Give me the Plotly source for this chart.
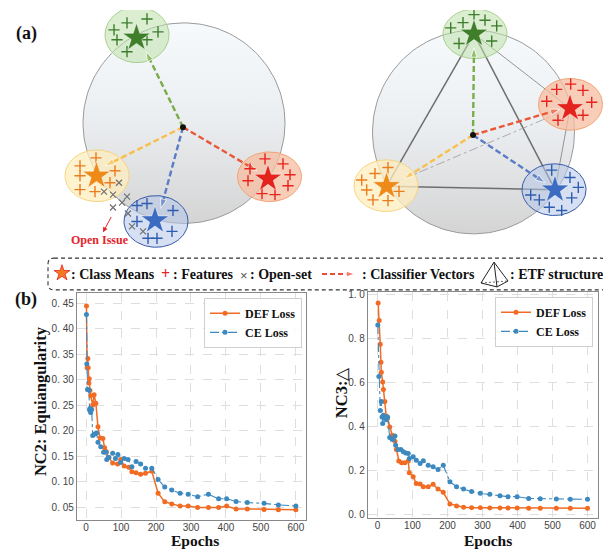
import numpy as np
import plotly.graph_objects as go

# ---------------- data ----------------
epochs_def_nc2 = [1, 3, 5, 6, 8, 9, 11, 13, 19, 23, 28, 34, 40, 48, 53, 58, 65, 76, 90, 99,
                  109, 122, 131, 143, 156, 170, 188, 206, 225, 245, 269, 292, 319, 350, 379, 402,
                  429, 461, 509, 550, 600]
def_nc2 = [0.445, 0.324, 0.342, 0.324, 0.294, 0.302, 0.279, 0.269, 0.251, 0.271,
           0.254, 0.208, 0.186, 0.185, 0.167, 0.159, 0.148, 0.137, 0.135, 0.144,
           0.131, 0.129, 0.120, 0.118, 0.115, 0.117, 0.121,
           0.078, 0.061, 0.057, 0.053, 0.053, 0.050, 0.050, 0.050, 0.053,
           0.047, 0.047, 0.046, 0.0455, 0.0455]

epochs_ce_nc2 = [1, 2, 4, 8, 10, 11, 13, 16, 19, 25, 30, 34, 42, 50, 57, 59, 65, 76, 84, 91,
                 99, 109, 120, 131, 143, 156, 170, 188, 206, 225, 245, 269, 292, 319, 350, 379,
                 402, 429, 461, 509, 550, 600]
ce_nc2 = [0.428, 0.331, 0.281, 0.280, 0.241, 0.244, 0.236, 0.242, 0.191, 0.194,
          0.196, 0.178, 0.169, 0.158, 0.158, 0.144, 0.148, 0.156, 0.146, 0.154,
          0.138, 0.146, 0.144, 0.130, 0.140, 0.135, 0.127, 0.127,
          0.105, 0.090, 0.084, 0.078, 0.076, 0.071, 0.076, 0.067, 0.067,
          0.0615, 0.0596, 0.058, 0.055, 0.053]

epochs_def_nc3 = [2, 5, 8, 10, 11, 15, 17, 21, 25, 29, 35, 42, 50, 54, 61, 69, 78, 88,
                  91, 102, 111, 122, 131, 145, 159, 173, 188, 207, 226, 246, 269, 294, 321,
                  350, 373, 399, 432, 465, 511, 551, 600]
def_nc3 = [0.963, 0.884, 0.776, 0.694, 0.649, 0.604, 0.570, 0.516,
           0.450, 0.441, 0.400, 0.362, 0.335, 0.297, 0.245, 0.237, 0.237, 0.245,
           0.192, 0.174, 0.143, 0.140, 0.128, 0.128, 0.139, 0.118, 0.103,
           0.050, 0.041, 0.035, 0.033, 0.033, 0.032, 0.032, 0.031, 0.031,
           0.030, 0.030, 0.030, 0.030, 0.030]

epochs_ce_nc3 = [1, 4, 8, 11, 13, 15, 17, 21, 25, 29, 35, 42, 50, 52, 59, 67, 74, 81, 88, 91,
                 102, 111, 122, 131, 145, 159, 173, 188, 207, 226, 246, 269, 294, 321, 350,
                 373, 399, 432, 465, 511, 551, 600]
ce_nc3 = [0.863, 0.629, 0.475, 0.516, 0.445, 0.415, 0.453, 0.438, 0.433, 0.445,
          0.352, 0.343, 0.359, 0.317, 0.297, 0.297, 0.287, 0.282, 0.279, 0.257,
          0.264, 0.249, 0.234, 0.246, 0.226, 0.219, 0.207, 0.226,
          0.151, 0.128, 0.118, 0.106, 0.098, 0.094, 0.0875, 0.083, 0.083,
          0.075, 0.074, 0.072, 0.071, 0.071]

series_names = ["DEF Loss", "CE Loss"]
x_ticks = [0, 100, 200, 300, 400, 500, 600]
nc2_ticks = [0.05, 0.10, 0.15, 0.20, 0.25, 0.30, 0.35, 0.40, 0.45]
nc2_ticktext = ["0. 05", "0. 10", "0. 15", "0. 20", "0. 25", "0. 30", "0. 35", "0. 40", "0. 45"]
nc3_ticks = [0.0, 0.2, 0.4, 0.6, 0.8, 1.0]
nc3_ticktext = ["0. 0", "0. 2", "0. 4", "0. 6", "0. 8", "1. 0"]

# schematic (a): class layout in page-pixel coordinates
left_sphere = (184, 122, 101, 101)
right_sphere = (473.5, 131, 101, 102.5)
left_center = (183, 126)
right_center = (473, 134)
left_clusters = {
    "green": dict(ell=(137, 33, 32, 28), star=(136.5, 36),
                  plus=[(114, 28), (127, 21), (147, 17), (158, 30), (117, 38), (127, 50), (147, 38)],
                  head=(146, 50)),
    "orange": dict(ell=(97, 175, 32, 26), star=(96.5, 175),
                   plus=[(80, 165), (96, 157), (80, 175), (115, 170), (80, 189), (95, 191), (110, 182)],
                   head=(105, 165)),
    "red": dict(ell=(269.5, 176, 32, 25), star=(268, 178),
                plus=[(265, 158), (283, 163), (250, 168), (290, 174), (248, 180), (288, 185), (262, 193), (275, 194)],
                head=(257, 170)),
    "blue": dict(ell=(156, 221, 32, 26), star=(155, 220),
                 plus=[(137, 205), (147, 203), (173, 210), (137, 221), (172, 231), (148, 238), (157, 238)],
                 head=(161, 208)),
}
right_clusters = {
    "green": dict(ell=(475, 32, 32, 25), star=(474, 32),
                  plus=[(450.7, 26), (463, 20.7), (474, 12.7), (485, 18.3), (496.7, 24), (459, 41.7), (491.7, 39.3)],
                  head=(474, 46)),
    "red": dict(ell=(570.5, 103, 32, 26), star=(570, 107),
                plus=[(556.7, 88), (570.7, 82.7), (583, 89), (546.7, 100), (591.7, 101), (583, 114), (558, 119)],
                head=(560, 108)),
    "orange": dict(ell=(386, 185, 32, 26), star=(386.5, 185.5),
                   plus=[(375, 172.7), (388, 166.7), (361.7, 179.3), (399, 190.7), (366.7, 189.3), (373, 199.3), (388, 200)],
                   head=(404, 178)),
    "blue": dict(ell=(554, 189, 32, 26), star=(555, 189),
                 plus=[(551.7, 169.3), (570, 176.7), (578.3, 186.7), (530.7, 194.3), (539.3, 199.3), (571.7, 197.3), (549.3, 206.7), (561.7, 210)],
                 head=(545, 182)),
}
open_set = [(119, 182), (104, 191), (113, 194), (127, 196), (122, 202), (113, 207), (128, 213), (132, 226), (143, 231)]

palette = {
    "green": dict(fill="rgba(190,224,170,0.55)", edge="#a9d18e", star="#3f7f2a", plus="#3e7d2e", arrow="#78ad48"),
    "orange": dict(fill="rgba(255,238,190,0.75)", edge="#f6d57f", star="#ee8a18", plus="#ea7d1f", arrow="#f8c04a"),
    "red": dict(fill="rgba(247,190,160,0.75)", edge="#f2a373", star="#e5231d", plus="#e8231e", arrow="#e9583b"),
    "blue": dict(fill="rgba(180,198,232,0.55)", edge="#3558a8", star="#3b6cc2", plus="#2f5db0", arrow="#5b7cc6"),
}

DEF_COLOR = "#F26B22"
CE_COLOR = "#3C89C0"
SERIF = "Liberation Serif, Times New Roman, serif"
SANS = "Liberation Sans, Arial, sans-serif"

# page offset: the HTML body has an 8px margin
OFF = 8
PAGE_W, PAGE_H = 611, 550
W, H = PAGE_W - OFF, PAGE_H - OFF

def dx(px):
    return (px - OFF) / W

def dy(py):
    return 1 - (py - OFF) / H

fig = go.Figure()

# ---------------- plots (b) ----------------
for xs, ys, name, color, dash, xa, ya, leg in [
    (epochs_def_nc2, def_nc2, series_names[0], DEF_COLOR, "solid", "x", "y", "legend"),
    (epochs_ce_nc2, ce_nc2, series_names[1], CE_COLOR, "dashdot", "x", "y", "legend"),
    (epochs_def_nc3, def_nc3, series_names[0], DEF_COLOR, "solid", "x2", "y2", "legend2"),
    (epochs_ce_nc3, ce_nc3, series_names[1], CE_COLOR, "dashdot", "x2", "y2", "legend2"),
]:
    fig.add_trace(go.Scatter(
        x=xs, y=ys, name=name, mode="lines+markers", xaxis=xa, yaxis=ya, legend=leg,
        line=dict(color=color, width=1.5 if dash == "solid" else 1.1, dash=dash),
        marker=dict(color=color, size=5),
    ))

# ---------------- schematic (a) on a pixel axis ----------------
def ellipse_pts(cx, cy, rx, ry, n=90):
    t = np.linspace(0, 2 * np.pi, n)
    return list(cx + rx * np.cos(t)), list(cy + ry * np.sin(t))

def add_px(**kw):
    kw.setdefault("showlegend", False)
    kw.setdefault("hoverinfo", "skip")
    fig.add_trace(go.Scatter(xaxis="x3", yaxis="y3", **kw))

for (cx, cy, rx, ry) in [left_sphere, right_sphere]:
    ex, ey = ellipse_pts(cx, cy, rx, ry, 160)
    add_px(x=ex, y=ey, mode="lines", fill="toself",
           fillgradient=dict(type="vertical", colorscale=[[0, "#d4d4d4"], [0.55, "#eceff2"], [1, "#f7fafd"]]),
           line=dict(color="#9a9a9a", width=1))

# right: ETF edges
rs = {k: v["star"] for k, v in right_clusters.items()}
for a, b in [("green", "orange"), ("green", "blue"), ("orange", "blue")]:
    add_px(x=[rs[a][0], rs[b][0]], y=[rs[a][1], rs[b][1]], mode="lines", line=dict(color="#6e6e6e", width=1.5))
for a, b in [("green", "red"), ("red", "blue")]:
    add_px(x=[rs[a][0], rs[b][0]], y=[rs[a][1], rs[b][1]], mode="lines", line=dict(color="#8a8a8a", width=0.9))
add_px(x=[rs["orange"][0], rs["red"][0]], y=[rs["orange"][1], rs["red"][1]], mode="lines",
       line=dict(color="#9a9a9a", width=0.8, dash="dashdot"))

for clusters, center in [(left_clusters, left_center), (right_clusters, right_center)]:
    for key, c in clusters.items():
        pal = palette[key]
        ex, ey = ellipse_pts(*c["ell"])
        add_px(x=ex, y=ey, mode="lines", fill="toself", fillcolor=pal["fill"],
               line=dict(color=pal["edge"], width=1))
    for key, c in clusters.items():
        pal = palette[key]
        add_px(x=[center[0], c["head"][0]], y=[center[1], c["head"][1]], mode="lines+markers",
               line=dict(color=pal["arrow"], width=2.4, dash="6px,3px"),
               marker=dict(symbol="arrow", size=[0, 10], angleref="previous", color=pal["arrow"]))
        add_px(x=[p[0] for p in c["plus"]], y=[p[1] for p in c["plus"]], mode="markers",
               marker=dict(symbol="cross-thin", size=8, line=dict(color=pal["plus"], width=1.4)))
        add_px(x=[c["star"][0]], y=[c["star"][1]], mode="markers",
               marker=dict(symbol="star", size=21, color=pal["star"], line=dict(color="rgba(255,255,255,0.5)", width=1)))
    add_px(x=[center[0]], y=[center[1]], mode="markers", marker=dict(color="#111", size=6))

add_px(x=[p[0] for p in open_set], y=[p[1] for p in open_set], mode="markers",
       marker=dict(symbol="x-thin", size=6, line=dict(color="#707070", width=1.2)))

# legend strip icons
add_px(x=[62], y=[273], mode="markers", marker=dict(symbol="star", size=12, color="#f47a20", line=dict(color="#e52420", width=0.8)))
add_px(x=[322, 355], y=[274, 274], mode="lines+markers",
       line=dict(color="#ee4a3a", width=2, dash="5px,3px"),
       marker=dict(symbol="arrow", size=[0, 9], angleref="previous", color="#ee4a3a"))
add_px(x=[481, 494, 508, None, 494, 497, None, 481, 497, 508], y=[283, 262, 281, None, 262, 287, None, 283, 287, 281],
       mode="lines", line=dict(color="#222", width=1))
add_px(x=[481, 508], y=[283, 281], mode="lines", line=dict(color="#444", width=0.8, dash="2px,2px"))

shapes = [dict(type="path", xref="x3", yref="y3",
               path="M 54,258 L 601,258 Q 607,258 607,264 L 607,284 Q 607,290 601,290 L 54,290 Q 48,290 48,284 L 48,264 Q 48,258 54,258 Z",
               line=dict(color="#333", width=1.1, dash="4px,3px"), fillcolor="rgba(0,0,0,0)")]

def ann(text, x, y, size, color="#111", xanchor="center", family=SERIF, angle=0):
    return dict(text=text, x=x, y=y, xref="x3", yref="y3", showarrow=False, xanchor=xanchor, yanchor="middle",
                font=dict(size=size, color=color, family=family), textangle=angle, borderpad=0)

annotations = [
    ann("<b>(a)</b>", 26, 32, 18),
    ann("<b>(b)</b>", 26, 300, 18),
    ann("<b>Open Issue</b>", 100, 240, 12, color="#e5232a"),
    ann("<b>: Class Means</b>", 70, 274.5, 14, xanchor="left"),
    ann("<b>+</b>", 165, 273, 16, color="#e5232a"),
    ann("<b>: Features</b>", 172, 274.5, 14, xanchor="left"),
    ann("×", 244, 275, 13, color="#555", family=SANS),
    ann("<b>: Open-set</b>", 249, 274.5, 14, xanchor="left"),
    ann("<b>: Classifier Vectors</b>", 361, 274.5, 14, xanchor="left"),
    ann("<b>: ETF structure</b>", 509, 274.5, 14, xanchor="left"),
    ann("<b>NC2: Equiangularity</b>", 40, 402, 16.5, angle=-90),
    ann("<b>NC3:</b>△", 341, 393, 16.5, angle=-90),
    ann("<b>Epochs</b>", 195, 542.5, 15.5),
    ann("<b>Epochs</b>", 487.5, 542.5, 15.5),
    dict(x=103, y=232, ax=112, ay=215, xref="x3", yref="y3", axref="x3", ayref="y3", text="",
         showarrow=True, arrowhead=2, arrowsize=1, arrowwidth=1, arrowcolor="#e5232a"),
]

axis_common = dict(showgrid=True, gridcolor="#dedede", griddash="dash", gridwidth=1,
                   showline=True, mirror=True, linecolor="#888888", linewidth=1.3,
                   zeroline=False, ticks="", tickfont=dict(family=SANS, size=10, color="#444"))

legend_common = dict(font=dict(family=SERIF, size=12, color="#111", weight="bold"),
                     bgcolor="rgba(255,255,255,0.9)",
                     bordercolor="#cfcfcf", borderwidth=1, xanchor="right", yanchor="top",
                     tracegroupgap=0, itemwidth=30)

fig.update_layout(
    width=W, height=H, margin=dict(l=0, r=0, t=0, b=0),
    paper_bgcolor="white", plot_bgcolor="rgba(0,0,0,0)",
    xaxis=dict(domain=[dx(77), dx(306)], range=[-26, 629], anchor="y", tickvals=x_ticks,
               ticklabelstandoff=-2, **axis_common),
    yaxis=dict(domain=[dy(522), dy(293)], range=[0.025, 0.4705], anchor="x",
               tickvals=nc2_ticks, ticktext=nc2_ticktext, **axis_common),
    xaxis2=dict(domain=[dx(368), dx(598)], range=[-27, 630], anchor="y2", tickvals=x_ticks,
                ticklabelstandoff=-2, **axis_common),
    yaxis2=dict(domain=[dy(520), dy(291.7)], range=[-0.015, 1.015], anchor="x2",
                tickvals=nc3_ticks, ticktext=nc3_ticktext, **axis_common),
    xaxis3=dict(domain=[0, 1], range=[OFF, PAGE_W], anchor="y3", visible=False, fixedrange=True),
    yaxis3=dict(domain=[0, 1], range=[PAGE_H, OFF], anchor="x3", visible=False, fixedrange=True),
    legend=dict(x=dx(302), y=dy(298), **legend_common),
    legend2=dict(x=dx(593), y=dy(297), **legend_common),
    shapes=shapes, annotations=annotations,
)

fig.write_html("out.html")
